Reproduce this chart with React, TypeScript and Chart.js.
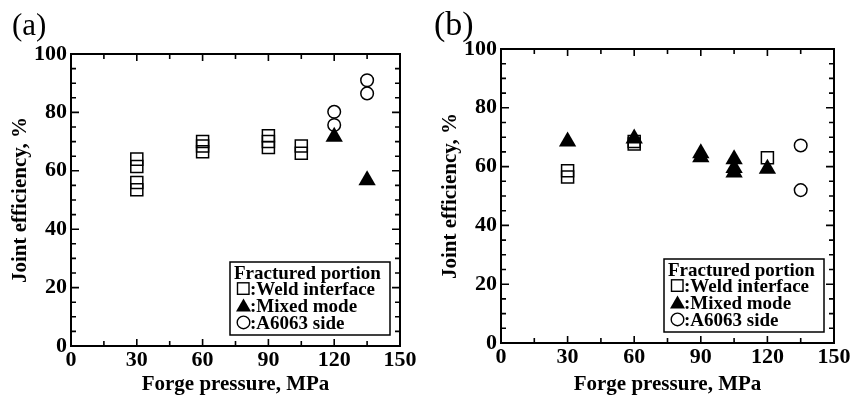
import React, { useEffect, useRef } from "react";
import { Chart, registerables } from "chart.js";

Chart.register(...registerables);

// ---------- data ----------
const xTicks = [0, 30, 60, 90, 120, 150];
const yTicks = [0, 20, 40, 60, 80, 100];
const xMinorStep = 15;
const yMinorStep = 5;

const aWeldX = [30, 30, 30, 30, 60, 60, 60, 90, 90, 90, 105, 105];
const aWeldY = [64, 61.5, 56, 53.5, 70, 68.5, 66.5, 72, 70, 68, 68.5, 66];
const aMixedX = [120, 135];
const aMixedY = [71.7, 56.8];
const aSideX = [120, 120, 135, 135];
const aSideY = [80.2, 75.7, 91, 86.5];

const bWeldX = [30, 30, 60, 60, 120];
const bWeldY = [58.6, 56.5, 68.5, 67.7, 63];
const bMixedX = [30, 60, 90, 90, 105, 105, 105, 120];
const bMixedY = [68.5, 69.6, 64.5, 63.2, 62.5, 59.5, 58, 59.3];
const bSideX = [135, 135];
const bSideY = [67.2, 52];

const legendTitle = "Fractured portion";
const legendLabels = [":Weld interface", ":Mixed mode", ":A6063 side"];
const xTitle = "Forge pressure, MPa";
const yTitle = "Joint efficiency, %";

const SERIF = '"Liberation Serif", "Times New Roman", serif';

const pts = (xs: number[], ys: number[]) => xs.map((x, i) => ({ x, y: ys[i] }));

const framePlugin = {
  id: "frameTicksLegend",
  afterDraw(chart: any) {
    const { ctx, chartArea, scales } = chart;
    const { left, right, top, bottom } = chartArea;
    const x = scales.x;
    const y = scales.y;
    ctx.save();
    ctx.strokeStyle = "#000";
    ctx.fillStyle = "#000";
    ctx.lineWidth = 2;
    ctx.strokeRect(left, top, right - left, bottom - top);
    ctx.lineWidth = 1.6;
    ctx.beginPath();
    for (let v = x.min; v <= x.max + 1e-9; v += xMinorStep) {
      const px = x.getPixelForValue(v);
      const len = xTicks.includes(v) ? 7 : 5;
      ctx.moveTo(px, bottom);
      ctx.lineTo(px, bottom - len);
      ctx.moveTo(px, top);
      ctx.lineTo(px, top + len);
    }
    for (let v = y.min; v <= y.max + 1e-9; v += yMinorStep) {
      const py = y.getPixelForValue(v);
      const len = yTicks.includes(v) ? 8 : 5;
      ctx.moveTo(left, py);
      ctx.lineTo(left + len, py);
      ctx.moveTo(right, py);
      ctx.lineTo(right - len, py);
    }
    ctx.stroke();

    // legend box
    const boxL = right - 170;
    const boxR = right - 10;
    const boxT = bottom - 84;
    const boxB = bottom - 11;
    ctx.fillStyle = "#fff";
    ctx.fillRect(boxL, boxT, boxR - boxL, boxB - boxT);
    ctx.lineWidth = 1.5;
    ctx.strokeStyle = "#000";
    ctx.strokeRect(boxL, boxT, boxR - boxL, boxB - boxT);
    ctx.fillStyle = "#000";
    ctx.font = `bold 19px ${SERIF}`;
    ctx.textBaseline = "alphabetic";
    ctx.textAlign = "left";
    const base0 = boxT + 16.5;
    ctx.fillText(legendTitle, boxL + 4, base0);
    legendLabels.forEach((lab, i) => {
      const base = base0 + 16.8 * (i + 1);
      const mx = boxL + 7;
      ctx.lineWidth = 1.4;
      if (i === 0) {
        ctx.strokeRect(mx + 0.5, base - 12.5, 11.5, 11.5);
      } else if (i === 1) {
        ctx.beginPath();
        ctx.moveTo(mx + 6.5, base - 13.5);
        ctx.lineTo(mx + 14, base - 0.5);
        ctx.lineTo(mx - 1, base - 0.5);
        ctx.closePath();
        ctx.fill();
      } else {
        ctx.beginPath();
        ctx.arc(mx + 6.5, base - 6.5, 6.3, 0, Math.PI * 2);
        ctx.stroke();
      }
      ctx.fillText(lab, boxL + 20, base);
    });
    ctx.restore();
  },
};

type PanelProps = {
  weld: { x: number; y: number }[];
  mixed: { x: number; y: number }[];
  side: { x: number; y: number }[];
  pad: { top: number; right: number };
  xAxisH: number;
};

function Panel({ weld, mixed, side, pad, xAxisH }: PanelProps) {
  const ref = useRef<HTMLCanvasElement | null>(null);
  useEffect(() => {
    if (!ref.current) return;
    const tickFont = { family: SERIF, size: 22, weight: "bold" as const };
    const titleFont = { family: SERIF, size: 21, weight: "bold" as const, lineHeight: 1 };
    const chart = new Chart(ref.current, {
      type: "scatter",
      data: {
        datasets: [
          {
            label: "Mixed mode",
            data: mixed,
            pointStyle: "triangle",
            pointRadius: 10,
            pointBackgroundColor: "#000",
            pointBorderColor: "#000",
            pointBorderWidth: 0,
            order: 0,
          },
          {
            label: "Weld interface",
            data: weld,
            pointStyle: "rect",
            pointRadius: 8.5,
            pointBackgroundColor: "rgba(0,0,0,0)",
            pointBorderColor: "#000",
            pointBorderWidth: 1.5,
            order: 1,
          },
          {
            label: "A6063 side",
            data: side,
            pointStyle: "circle",
            pointRadius: 6.3,
            pointBackgroundColor: "rgba(0,0,0,0)",
            pointBorderColor: "#000",
            pointBorderWidth: 1.5,
            order: 1,
          },
        ],
      },
      options: {
        animation: false,
        responsive: false,
        devicePixelRatio: 1,
        layout: { padding: { left: 0, right: pad.right, top: pad.top, bottom: 0 } },
        plugins: { legend: { display: false }, tooltip: { enabled: false } },
        scales: {
          x: {
            type: "linear",
            min: xTicks[0],
            max: xTicks[xTicks.length - 1],
            grid: { display: false, drawTicks: false },
            border: { display: false },
            afterBuildTicks: (s: any) => {
              s.ticks = xTicks.map((v) => ({ value: v }));
            },
            ticks: { color: "#000", font: tickFont, padding: 1, maxRotation: 0, autoSkip: false },
            title: { display: true, text: xTitle, color: "#000", font: titleFont, padding: { top: -4, bottom: 0 } },
            afterFit: (s: any) => {
              s.height = xAxisH;
            },
          },
          y: {
            type: "linear",
            min: yTicks[0],
            max: yTicks[yTicks.length - 1],
            grid: { display: false, drawTicks: false },
            border: { display: false },
            afterBuildTicks: (s: any) => {
              s.ticks = yTicks.map((v) => ({ value: v }));
            },
            ticks: { color: "#000", font: tickFont, padding: 4, autoSkip: false },
            title: { display: true, text: yTitle, color: "#000", font: titleFont, padding: { top: 10.5, bottom: 0 } },
            afterFit: (s: any) => {
              s.width = 71;
            },
          },
        },
      },
      plugins: [framePlugin],
    } as any);
    return () => chart.destroy();
  }, []);
  return <canvas ref={ref} width={430} height={395} style={{ display: "block" }} />;
}

export default function App() {
  return (
    <div style={{ position: "absolute", left: 0, top: 0, width: 860, height: 395, background: "#fff", overflow: "hidden" }}>
      <div style={{ position: "absolute", left: 0, top: 0 }}>
        <Panel weld={pts(aWeldX, aWeldY)} mixed={pts(aMixedX, aMixedY)} side={pts(aSideX, aSideY)} pad={{ top: 54, right: 30 }} xAxisH={49} />
      </div>
      <div style={{ position: "absolute", left: 430, top: 0 }}>
        <Panel weld={pts(bWeldX, bWeldY)} mixed={pts(bMixedX, bMixedY)} side={pts(bSideX, bSideY)} pad={{ top: 49, right: 26 }} xAxisH={52} />
      </div>
      <div style={{ position: "absolute", left: 12, top: 9, fontFamily: SERIF, fontSize: 31, lineHeight: 1 }}>(a)</div>
      <div style={{ position: "absolute", left: 434, top: 7, fontFamily: SERIF, fontSize: 34, lineHeight: 1 }}>(b)</div>
    </div>
  );
}
